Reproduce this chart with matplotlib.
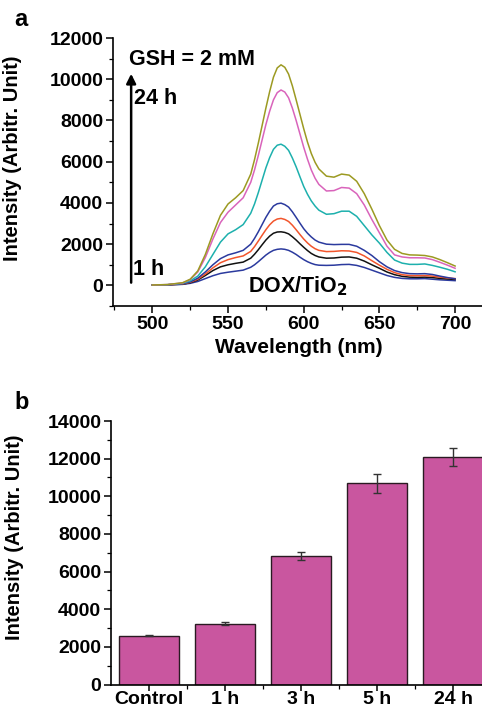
import matplotlib
matplotlib.use('Agg')
import matplotlib.pyplot as plt
from matplotlib.ticker import MultipleLocator, FixedLocator

plt.rcParams['font.family'] = ['Liberation Sans', 'DejaVu Sans']
plt.rcParams['font.weight'] = 'bold'
plt.rcParams['axes.labelweight'] = 'bold'

# panel a: emission spectra (wavelength in nm)
wavelength = [500, 510, 520, 525, 530, 535, 540, 545, 550, 555, 560,
              565, 567.5, 570, 572.5, 575, 577.5, 580, 582.5, 585, 587.5, 590, 592.5,
              595, 597.5, 600, 602.5, 605, 607.5,
              610, 615, 620, 625, 630, 635, 640, 645, 650, 655,
              660, 665, 670, 675, 680, 685, 690, 695, 700]
spec_1h = [20, 25, 50, 100, 190, 330, 470, 580, 640, 690, 740,
           880, 1000, 1150, 1310, 1470, 1600, 1700, 1750, 1770, 1750, 1700, 1610,
           1500, 1370, 1250, 1150, 1070, 1010,
           980, 970, 980, 1010, 1020, 970, 870, 740, 610, 480,
           390, 340, 320, 320, 330, 300, 270, 250, 230]
spec_2 = [20, 30, 60, 130, 260, 480, 720, 900, 1000, 1070, 1130,
          1320, 1510, 1730, 1970, 2200, 2390, 2530, 2590, 2600, 2570, 2500, 2360,
          2200, 2020, 1850, 1690, 1550, 1450,
          1380, 1320, 1330, 1370, 1380, 1320, 1180, 1000, 830, 650,
          520, 440, 400, 390, 400, 380, 340, 310, 290]
spec_3 = [20, 30, 70, 150, 300, 550, 850, 1100, 1250, 1350, 1430,
          1650, 1880, 2150, 2430, 2700, 2940, 3120, 3220, 3250, 3200, 3100, 2920,
          2700, 2470, 2250, 2060, 1900, 1780,
          1700, 1640, 1650, 1680, 1670, 1600, 1430, 1200, 980, 780,
          620, 520, 480, 470, 480, 450, 400, 360, 330]
spec_4 = [20, 30, 80, 170, 350, 650, 1000, 1300, 1480, 1580, 1700,
          2000, 2280, 2600, 2950, 3300, 3600, 3850, 3960, 3990, 3920, 3800, 3570,
          3300, 3020, 2750, 2530, 2350, 2200,
          2100, 2000, 1980, 1990, 1990, 1900, 1700, 1450, 1150, 900,
          720, 620, 570, 560, 570, 530, 450, 380, 320]
spec_5 = [20, 35, 100, 220, 450, 900, 1500, 2100, 2500, 2700, 2950,
          3500, 3950, 4500, 5100, 5700, 6200, 6600, 6800, 6850, 6750, 6550, 6180,
          5750, 5270, 4800, 4420, 4100, 3850,
          3650, 3450, 3480, 3600, 3600, 3350, 2900, 2450, 2050, 1600,
          1230, 1080, 1020, 1020, 1040, 970, 880, 780, 660]
spec_6 = [20, 40, 120, 280, 650, 1350, 2250, 3050, 3550, 3900, 4250,
          5000, 5600, 6300, 7050, 7800, 8450, 9000, 9350, 9480, 9380, 9100, 8600,
          8000, 7350, 6700, 6120, 5600, 5200,
          4900, 4580, 4600, 4750, 4720, 4450, 3900, 3200, 2550, 1900,
          1480, 1380, 1340, 1340, 1330, 1250, 1120, 980, 830]
spec_24h = [20, 40, 130, 300, 700, 1500, 2500, 3400, 3950, 4250, 4600,
            5400, 6100, 6900, 7750, 8600, 9400, 10100, 10550, 10700, 10580, 10250, 9680,
            9000, 8300, 7600, 6950, 6400, 5970,
            5650, 5300, 5250, 5400, 5350, 5050, 4450, 3700, 2900, 2200,
            1750, 1550, 1480, 1470, 1450, 1380, 1250, 1100, 940]

spectra = [spec_1h, spec_2, spec_3, spec_4, spec_5, spec_6, spec_24h]
line_colors = ['#2b3a9e', '#111111', '#f2552c', '#2b3a9e', '#1db0ad', '#d964bb', '#9c9a22']

# panel b: bar chart
groups = ['Control', '1 h', '3 h', '5 h', '24 h']
intensity = [2600, 3220, 6830, 10690, 12080]
errors = [25, 80, 190, 520, 460]

fig = plt.figure(figsize=(4.82, 7.12), dpi=100)

# ---- a ----
ax1 = fig.add_axes([0.2344, 0.5702, 0.7726, 0.3764])
for y, c in zip(spectra, line_colors):
    ax1.plot(wavelength, y, color=c, lw=1.1, solid_joinstyle='round')
ax1.set_xlim(474, 720)
ax1.set_ylim(-1000, 12000)
ax1.xaxis.set_major_locator(FixedLocator([500, 550, 600, 650, 700]))
ax1.xaxis.set_minor_locator(FixedLocator([475, 525, 575, 625, 675]))
ax1.yaxis.set_major_locator(MultipleLocator(2000))
ax1.yaxis.set_minor_locator(FixedLocator([-1000, 1000, 3000, 5000, 7000, 9000, 11000]))
ax1.set_xlabel('Wavelength (nm)', fontsize=15, labelpad=4)
ax1.set_ylabel('Intensity (Arbitr. Unit)', fontsize=14.5)
ax1.yaxis.set_label_coords(-0.245, 0.55)
ax1.annotate('', xy=(486, 10400), xytext=(486, 0),
             arrowprops=dict(arrowstyle='-|>', color='black', lw=1.8, mutation_scale=14))
ax1.text(484.5, 10950, 'GSH = 2 mM', fontsize=15.5, fontweight='bold', va='center')
ax1.text(488, 9050, '24 h', fontsize=15.5, fontweight='bold', va='center')
ax1.text(487.5, 750, '1 h', fontsize=15.5, fontweight='bold', va='center')
ax1.text(563, -60, 'DOX/TiO$_\\mathbf{2}$', fontsize=15.5, fontweight='bold', va='center')
fig.text(0.03, 0.972, 'a', fontsize=17, fontweight='bold', va='center')

# ---- b ----
ax2 = fig.add_axes([0.2303, 0.0385, 0.7884, 0.3702])
xpos = list(range(len(groups)))
ax2.bar(xpos, intensity, width=0.8, color='#c9569f', edgecolor='#2a1a22', lw=1.0,
        yerr=errors, error_kw=dict(ecolor='#333333', elinewidth=1.0, capsize=3, capthick=1.0))
ax2.set_xlim(-0.5, 4.5)
ax2.set_ylim(0, 14000)
ax2.set_xticks(xpos)
ax2.set_xticklabels(groups)
ax2.xaxis.set_minor_locator(FixedLocator([0.5, 1.5, 2.5, 3.5]))
ax2.yaxis.set_major_locator(MultipleLocator(2000))
ax2.yaxis.set_minor_locator(MultipleLocator(1000))
ax2.set_ylabel('Intensity (Arbitr. Unit)', fontsize=14.5)
ax2.yaxis.set_label_coords(-0.229, 0.56)
fig.text(0.03, 0.434, 'b', fontsize=17, fontweight='bold', va='center')

for ax in (ax1, ax2):
    ax.spines['top'].set_visible(False)
    ax.spines['right'].set_visible(False)
    ax.spines['left'].set_linewidth(1.2)
    ax.spines['bottom'].set_linewidth(1.2)
    ax.tick_params(which='major', direction='out', length=5, width=1.1, labelsize=14, pad=2)
    ax.tick_params(which='minor', direction='out', length=3, width=0.9)
    for lbl in ax.get_xticklabels() + ax.get_yticklabels():
        lbl.set_fontweight('bold')
ax2.tick_params(axis='x', which='major', pad=0.5, length=4)

fig.savefig('out.png', dpi=100)
